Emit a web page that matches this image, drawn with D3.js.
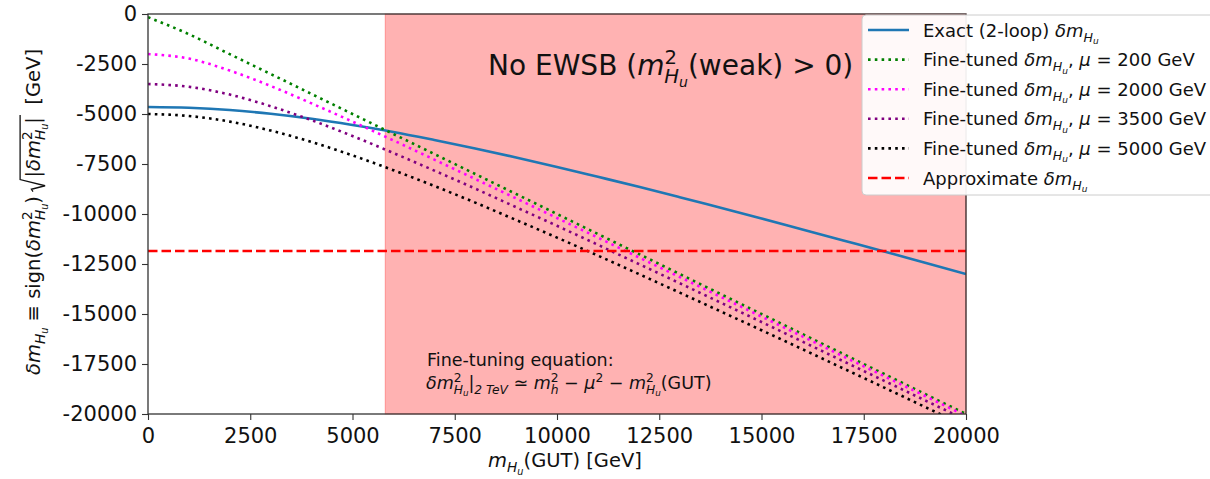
<!DOCTYPE html>
<html>
<head>
<meta charset="utf-8">
<script src="https://cdn.jsdelivr.net/npm/d3@7"></script>
<style>
  body { margin: 0; background: #fff; }
  text { font-family: "DejaVu Sans", sans-serif; fill: #111; white-space: pre; }
</style>
</head>
<body>
<div id="chart"></div>
<script>
// Values
const mGut = [0, 1000, 2000, 3000, 4000, 5000, 6000, 7000, 8000, 9000, 10000,
  11000, 12000, 13000, 14000, 15000, 16000, 17000, 18000, 19000, 20000];
const exactDm = [-4650, -4690, -4800, -4990, -5240, -5550, -5900, -6300, -6720, -7170, -7645,
  -8140, -8640, -9160, -9690, -10220, -10770, -11320, -11870, -12440, -13000];
const tuned200 = [-160, -1010, -2010, -3000, -4000, -5000, -6000, -7000, -8000, -9000, -10000,
  -11000, -12000, -13000, -14000, -15000, -16000, -17000, -18000, -19000, -20000];
const tuned2000 = [-2000, -2230, -2830, -3600, -4470, -5380, -6320, -7280, -8250, -9220, -10200,
  -11180, -12170, -13150, -14140, -15130, -16120, -17120, -18110, -19100, -20100];
const tuned3500 = [-3500, -3640, -4030, -4610, -5310, -6100, -6950, -7830, -8730, -9660, -10590,
  -11540, -12500, -13460, -14430, -15400, -16380, -17360, -18340, -19320, -20300];
const tuned5000 = [-5000, -5100, -5380, -5830, -6400, -7070, -7810, -8600, -9430, -10300, -11180,
  -12080, -13000, -13930, -14870, -15810, -16760, -17720, -18680, -19650, -20620];
const approxDm = -11850;
const noEwsbFrom = 5800;
const xTicks = [0, 2500, 5000, 7500, 10000, 12500, 15000, 17500, 20000];
const yTicks = [0, -2500, -5000, -7500, -10000, -12500, -15000, -17500, -20000];

const W = 1210, H = 479;
const plot = { left: 148, right: 966, top: 14, bottom: 414 };

const svg = d3.select("#chart").append("svg")
  .attr("width", W).attr("height", H);

const x = d3.scaleLinear().domain([0, 20000]).range([plot.left, plot.right]);
const y = d3.scaleLinear().domain([0, -20000]).range([plot.top, plot.bottom]);

// mathtext-ish helper: parts = [text, {it, sz, off, dx, rad}]
function mathText(sel, parts, fs) {
  let cur = 0;
  parts.forEach(function (p) {
    const o = p[1] || {};
    const off = (o.off || 0) * fs;
    const ts = sel.append("tspan").text(p[0])
      .attr("dy", off - cur)
      .style("font-size", ((o.sz || 1) * fs) + "px");
    if (o.it) ts.style("font-style", "italic");
    if (o.dx) ts.attr("dx", o.dx * fs);
    if (o.rad) ts.classed("rad", true);
    cur = off;
  });
}
const SUB = { sz: 0.7, off: 0.28, it: true };
const SUBB = { sz: 0.7, off: 0.28, it: true, dx: -0.45 }; // sub under a superscript
const SUBSUB = { sz: 0.5, off: 0.42, it: true };
const SUP = { sz: 0.7, off: -0.4 };
function dmHu() {
  return [["δm", { it: true }], ["H", SUB], ["u", SUBSUB]];
}

svg.append("defs").append("clipPath").attr("id", "clip")
  .append("rect")
  .attr("x", plot.left).attr("y", plot.top)
  .attr("width", plot.right - plot.left).attr("height", plot.bottom - plot.top);

// shaded region: no EWSB
svg.append("rect")
  .attr("x", x(noEwsbFrom)).attr("y", plot.top)
  .attr("width", x(20000) - x(noEwsbFrom)).attr("height", plot.bottom - plot.top)
  .attr("fill", "rgba(255,0,0,0.3)")
  .attr("stroke", "rgba(255,0,0,0.3)").attr("stroke-width", 1);

const series = [
  { vals: exactDm, color: "#1f77b4", dash: null, w: 2.6 },
  { vals: tuned200, color: "green", dash: "2.6,4.2", w: 2.6 },
  { vals: tuned2000, color: "#ff00ff", dash: "2.6,4.2", w: 2.6 },
  { vals: tuned3500, color: "purple", dash: "2.6,4.2", w: 2.6 },
  { vals: tuned5000, color: "black", dash: "2.6,4.2", w: 2.6 }
];

const line = d3.line()
  .x(function (d) { return x(d[0]); })
  .y(function (d) { return y(d[1]); })
  .curve(d3.curveMonotoneX);

const lines = svg.append("g").attr("clip-path", "url(#clip)");
series.forEach(function (s) {
  lines.append("path")
    .datum(mGut.map(function (m, i) { return [m, s.vals[i]]; }))
    .attr("fill", "none")
    .attr("stroke", s.color)
    .attr("stroke-width", s.w)
    .attr("stroke-dasharray", s.dash)
    .attr("d", line);
});
lines.append("line")
  .attr("x1", x(0)).attr("x2", x(20000))
  .attr("y1", y(approxDm)).attr("y2", y(approxDm))
  .attr("stroke", "red").attr("stroke-width", 2.4)
  .attr("stroke-dasharray", "9.5,4");

// axes
const xAxis = svg.append("g")
  .attr("transform", "translate(0," + plot.bottom + ")")
  .call(d3.axisBottom(x).tickValues(xTicks).tickSize(6).tickPadding(8).tickFormat(d3.format("d")));
const yAxis = svg.append("g")
  .attr("transform", "translate(" + plot.left + ",0)")
  .call(d3.axisLeft(y).tickValues(yTicks).tickSize(6).tickPadding(5)
    .tickFormat(function (d) { return d === 0 ? "0" : "-" + Math.abs(d); }));
[xAxis, yAxis].forEach(function (a) {
  a.select(".domain").remove();
  a.selectAll("line").attr("stroke", "#333").attr("stroke-width", 1.1);
  a.selectAll("text").style("font-size", "21px").attr("fill", "#111")
    .style("font-family", "'DejaVu Sans', sans-serif");
});

// frame
svg.append("rect")
  .attr("x", plot.left).attr("y", plot.top)
  .attr("width", plot.right - plot.left).attr("height", plot.bottom - plot.top)
  .attr("fill", "none").attr("stroke", "#333").attr("stroke-width", 1.3);

// axis labels
mathText(svg.append("text").attr("x", 565).attr("y", 467).attr("text-anchor", "middle"),
  [["m", { it: true }], ["H", SUB], ["u", SUBSUB], ["(GUT) [GeV]"]], 19.5);

const ylFs = 19.5;
const ylg = svg.append("g").attr("transform", "translate(40,212) rotate(-90)");
const yl = ylg.append("text").attr("text-anchor", "middle");
mathText(yl, dmHu().concat([
  [" ≡ sign("], ["δm", { it: true }], ["2", SUP], ["H", SUBB], ["u", SUBSUB], [")"],
  ["|", { rad: true, dx: 0.95 }], ["δm", { it: true, rad: true }], ["2", { sz: 0.7, off: -0.4, rad: true }],
  ["H", { sz: 0.7, off: 0.28, it: true, dx: -0.45, rad: true }], ["u", { sz: 0.5, off: 0.42, it: true, rad: true }],
  ["|", { rad: true }], ["  [GeV]"]
]), ylFs);
// radical sign drawn as a path over the radicand
(function () {
  let idx = 0, first = null, last = null;
  yl.selectAll("tspan").each(function () {
    const n = this.textContent.length;
    if (d3.select(this).classed("rad")) {
      if (first === null) first = idx;
      last = idx + n - 1;
    }
    idx += n;
  });
  const node = yl.node();
  const x1 = node.getStartPositionOfChar(first).x - 2;
  const x2 = node.getEndPositionOfChar(last).x + 2;
  const top = -1.02 * ylFs;
  const x0 = x1 - 0.62 * ylFs;
  ylg.append("path")
    .attr("d", "M" + x0 + "," + (-0.36 * ylFs) + "L" + (x0 + 0.12 * ylFs) + "," + (-0.44 * ylFs) +
      "L" + (x0 + 0.3 * ylFs) + "," + (0.26 * ylFs) + "L" + x1 + "," + top + "L" + x2 + "," + top)
    .attr("fill", "none").attr("stroke", "#111").attr("stroke-width", 1.3);
})();

// region title
mathText(svg.append("text").attr("x", 488).attr("y", 75),
  [["No EWSB ("], ["m", { it: true }], ["2", SUP], ["H", SUBB],
   ["u", SUBSUB], ["(weak) > 0)"]], 28);

// fine-tuning equation
svg.append("text").attr("x", 427).attr("y", 366).style("font-size", "17.5px")
  .text("Fine-tuning equation:");
mathText(svg.append("text").attr("x", 426).attr("y", 389),
  [["δm", { it: true }], ["2", SUP], ["H", SUBB], ["u", SUBSUB],
   ["|"], ["2 TeV", { sz: 0.7, off: 0.28, it: true }], [" ≃ "], ["m", { it: true }], ["2", SUP],
   ["h", SUBB], [" − "], ["μ", { it: true }], ["2", SUP],
   [" − "], ["m", { it: true }], ["2", SUP], ["H", SUBB],
   ["u", SUBSUB], ["(GUT)"]], 17.5);

// legend
const legendLabels = [
  [["Exact (2-loop) "]].concat(dmHu()),
  [["Fine-tuned "]].concat(dmHu()).concat([[", "], ["μ", { it: true }], [" = 200 GeV"]]),
  [["Fine-tuned "]].concat(dmHu()).concat([[", "], ["μ", { it: true }], [" = 2000 GeV"]]),
  [["Fine-tuned "]].concat(dmHu()).concat([[", "], ["μ", { it: true }], [" = 3500 GeV"]]),
  [["Fine-tuned "]].concat(dmHu()).concat([[", "], ["μ", { it: true }], [" = 5000 GeV"]]),
  [["Approximate "]].concat(dmHu())
];
const legendStyle = series.concat([{ color: "red", dash: "9.5,4", w: 2.4 }]);
const lg = svg.append("g");
lg.append("rect")
  .attr("x", 862).attr("y", 15).attr("width", 360).attr("height", 180).attr("rx", 4)
  .attr("fill", "rgba(255,255,255,0.92)").attr("stroke", "#cccccc").attr("stroke-width", 1);
legendLabels.forEach(function (lab, i) {
  const cy = 30 + i * 29.6;
  const st = legendStyle[i];
  lg.append("line")
    .attr("x1", 868).attr("x2", 909).attr("y1", cy).attr("y2", cy)
    .attr("stroke", st.color).attr("stroke-width", st.w)
    .attr("stroke-dasharray", st.dash);
  mathText(lg.append("text").attr("x", 923).attr("y", cy + 6.5), lab, 18);
});
</script>
</body>
</html>
